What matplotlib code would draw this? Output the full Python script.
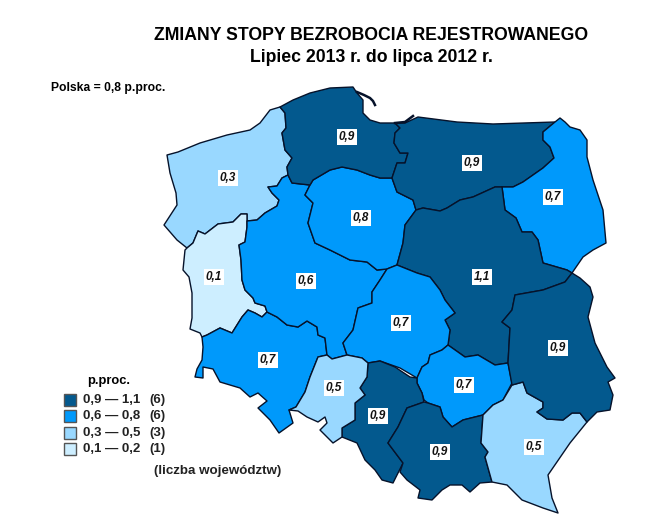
import matplotlib
matplotlib.use("Agg")
import matplotlib.pyplot as plt
from matplotlib.patches import Polygon, Rectangle

plt.rcParams['font.family'] = ['Liberation Sans', 'DejaVu Sans']

# voivodeship values, p.proc.
regions = ["zachodniopomorskie", "lubuskie", "dolnoslaskie", "wielkopolskie", "kujawsko-pomorskie",
           "pomorskie", "warminsko-mazurskie", "podlaskie", "mazowieckie", "lodzkie",
           "swietokrzyskie", "slaskie", "opolskie", "malopolskie", "podkarpackie", "lubelskie"]
values = [0.3, 0.1, 0.7, 0.6, 0.8, 0.9, 0.9, 0.7, 1.1, 0.7, 0.7, 0.9, 0.5, 0.9, 0.5, 0.9]
label_pos = [(228, 178), (214, 277), (268, 360), (306, 281), (361, 218), (347, 137), (472, 163), (553, 197),
             (482, 277), (401, 323), (464, 385), (378, 416), (334, 388), (440, 452), (534, 447), (558, 348)]

# outlines, in image pixels
outlines = {
    "zachodniopomorskie": [(167,155),(178,152),(200,143),(227,135),(250,130),(260,123),(270,110),(280,107),(285,113),
                           (286,128),(282,133),(285,150),(292,158),(287,167),(288,175),(282,178),(277,186),(268,187),
                           (272,193),(279,200),(277,206),(265,213),(257,220),(247,221),(247,214),(241,214),(233,222),
                           (218,224),(205,234),(198,231),(193,243),(187,248),(177,240),(164,225),(177,205),(176,193),(170,173)],
    "lubuskie": [(187,248),(193,243),(198,231),(205,234),(218,224),(233,222),(241,214),(247,214),(247,221),(247,227),
                 (245,242),(239,245),(241,260),(242,280),(245,290),(253,298),(255,303),(265,306),(267,312),(262,317),
                 (255,313),(248,310),(242,317),(232,333),(220,328),(207,335),(202,337),(200,333),(190,329),(192,318),
                 (192,293),(189,277),(183,270),(185,250)],
    "dolnoslaskie": [(202,337),(203,347),(202,360),(197,369),(195,377),(203,378),(203,367),(213,369),(220,382),(240,388),
                     (250,397),(258,393),(267,401),(258,408),(270,420),(279,433),(293,423),(289,410),(296,407),(305,392),
                     (310,377),(318,357),(327,355),(325,338),(318,335),(317,327),(307,321),(298,327),(287,325),(277,317),
                     (267,312),(262,317),(255,313),(248,310),(242,317),(232,333),(220,328),(207,335)],
    "wielkopolskie": [(288,175),(292,183),(310,185),(305,195),(313,203),(308,223),(315,243),(330,250),(350,260),(367,262),
                      (377,270),(387,269),(380,280),(372,292),(372,303),(358,308),(353,330),(343,343),(347,355),(332,359),
                      (327,355),(325,338),(318,335),(317,327),(307,321),(298,327),(287,325),(277,317),(267,312),(265,306),
                      (255,303),(253,298),(245,290),(242,280),(241,260),(239,245),(245,242),(247,227),(247,221),(257,220),
                      (265,213),(277,206),(279,200),(272,193),(268,187),(277,186),(282,178)],
    "kujawsko-pomorskie": [(310,185),(313,180),(330,170),(342,167),(357,170),(370,175),(380,178),(392,178),(397,192),
                           (413,200),(416,210),(405,225),(403,243),(397,265),(387,269),(377,270),(367,262),(350,260),
                           (330,250),(315,243),(308,223),(313,203),(305,195)],
    "pomorskie": [(280,107),(293,100),(310,93),(330,88),(353,87),(357,93),(363,100),(363,113),(370,120),(380,123),(395,123),
                  (400,128),(395,133),(394,143),(400,153),(408,153),(405,163),(397,163),(392,178),(380,178),(370,175),
                  (357,170),(342,167),(330,170),(313,180),(310,185),(292,183),(288,175),(287,167),(292,158),(285,150),
                  (282,133),(286,128),(285,113)],
    "warminsko-mazurskie": [(395,123),(405,123),(418,117),(457,122),(493,124),(555,122),(543,132),(543,140),(550,147),
                            (554,158),(543,168),(523,182),(513,187),(502,187),(495,187),(473,197),(460,200),(447,208),
                            (440,211),(423,208),(416,210),(413,200),(397,192),(392,178),(397,163),(405,163),(408,153),
                            (400,153),(394,143),(395,133),(400,128)],
    "podlaskie": [(555,122),(560,118),(565,122),(570,127),(580,130),(587,140),(587,157),(593,180),(603,210),(606,243),
                  (593,250),(583,257),(572,273),(567,270),(543,263),(538,240),(532,232),(522,232),(516,218),(505,210),
                  (502,187),(513,187),(523,182),(543,168),(554,158),(550,147),(543,140),(543,132)],
    "mazowieckie": [(416,210),(423,208),(440,211),(447,208),(460,200),(473,197),(495,187),(502,187),(505,210),(516,218),
                    (522,232),(532,232),(538,240),(543,263),(567,270),(572,273),(565,282),(543,290),(515,295),(512,310),
                    (502,322),(510,328),(508,363),(495,365),(478,355),(465,357),(448,345),(450,330),(445,320),(455,313),
                    (445,300),(440,290),(430,277),(417,273),(397,265),(403,243),(405,225)],
    "lodzkie": [(397,265),(417,273),(430,277),(440,290),(445,300),(455,313),(445,320),(450,330),(448,345),(442,350),
                (430,355),(428,363),(422,367),(417,378),(400,368),(380,361),(368,363),(362,358),(347,355),(343,343),
                (353,330),(358,308),(372,303),(372,292),(380,280),(387,269)],
    "swietokrzyskie": [(448,345),(465,357),(478,355),(495,365),(508,363),(512,383),(503,400),(493,405),(483,415),(463,420),
                       (452,427),(443,417),(440,407),(428,403),(424,400),(422,393),(417,383),(417,378),(422,367),(428,363),
                       (430,355),(442,350)],
    "slaskie": [(368,363),(380,361),(395,367),(410,377),(417,378),(417,383),(422,393),(424,402),(407,408),(398,427),
                (388,443),(403,463),(393,483),(382,480),(375,470),(365,460),(357,443),(342,437),(342,428),(355,420),
                (355,403),(365,395),(360,388),(367,377)],
    "opolskie": [(327,355),(332,359),(347,355),(362,358),(368,363),(367,377),(360,388),(365,395),(355,403),(355,420),
                 (342,428),(342,437),(333,443),(320,430),(327,423),(325,417),(318,422),(307,417),(298,411),(289,410),
                 (296,407),(305,392),(310,377),(318,357)],
    "malopolskie": [(424,402),(428,403),(440,407),(443,417),(452,427),(463,420),(483,415),(481,443),(488,452),(485,457),
                    (492,482),(480,483),(470,492),(462,485),(450,485),(442,490),(432,500),(418,498),(420,490),(407,480),
                    (400,472),(403,463),(388,443),(398,427),(407,408)],
    "podkarpackie": [(483,415),(493,405),(503,400),(512,385),(523,382),(527,393),(543,402),(543,408),(537,412),(547,419),
                     (563,420),(572,413),(580,413),(587,422),(570,443),(548,475),(552,498),(558,513),(543,508),(522,500),
                     (507,485),(492,482),(485,457),(488,452),(481,443)],
    "lubelskie": [(512,385),(508,363),(510,328),(502,322),(512,310),(515,295),(543,290),(565,282),(572,273),(580,278),
                  (590,287),(593,297),(588,317),(595,343),(607,367),(615,378),(608,382),(613,395),(610,410),(597,412),
                  (587,422),(580,413),(572,413),(563,420),(547,419),(537,412),(543,408),(543,402),(527,393),(523,382)],
}

hel_x = [357, 364, 370, 373, 375]
hel_y = [92, 95, 98, 101, 105]
zalew_x = [395, 405, 413]
zalew_y = [123, 122, 116]

legend_labels = ["0,9 — 1,1", "0,6 — 0,8", "0,3 — 0,5", "0,1 — 0,2"]
legend_counts = ["(6)", "(6)", "(3)", "(1)"]
colors = ["#03598e", "#0099fb", "#99d8ff", "#cdeeff"]
bin_low = [0.9, 0.6, 0.3, 0.1]


def class_color(v):
    for low, c in zip(bin_low, colors):
        if v >= low:
            return c
    return colors[-1]


fig = plt.figure(figsize=(6.47, 5.29), dpi=100)
ax = fig.add_axes([0, 0, 1, 1])
ax.set_xlim(0, 647)
ax.set_ylim(529, 0)
ax.axis('off')

for name, v in zip(regions, values):
    ax.add_patch(Polygon(outlines[name], closed=True, facecolor=class_color(v), edgecolor='#06122a',
                         linewidth=1.0, joinstyle='round'))

ax.plot(hel_x, hel_y, color='#06122a', lw=1.8)
ax.plot(zalew_x, zalew_y, color='#06122a', lw=1.8)

for (x, y), v in zip(label_pos, values):
    ax.text(x, y, f"{v:.1f}".replace('.', ','), ha='center', va='center', fontsize=8.5, fontweight='bold',
            fontstyle='italic', color='#111111',
            bbox=dict(facecolor='white', edgecolor='none', pad=1.5))

ax.text(371, 36, "ZMIANY STOPY BEZROBOCIA REJESTROWANEGO", ha='center', va='center', fontsize=12.7, fontweight='bold')
ax.text(371, 58, "Lipiec 2013 r. do lipca 2012 r.", ha='center', va='center', fontsize=12.7, fontweight='bold')
ax.text(51, 88, "Polska = 0,8 p.proc.", ha='left', va='center', fontsize=8.7, fontweight='bold')

ax.text(109, 381, "p.proc.", ha='center', va='center', fontsize=9.3, fontweight='bold')
for i, (lab, cnt, c) in enumerate(zip(legend_labels, legend_counts, colors)):
    y = 400 + i * 16.3
    ax.add_patch(Rectangle((63.5, y - 6), 12, 12, facecolor=c, edgecolor='#555555', linewidth=1))
    ax.text(83, y, lab, ha='left', va='center', fontsize=9.5, fontweight='bold', color='#222222')
    ax.text(149, y, cnt, ha='left', va='center', fontsize=9.5, fontweight='bold', color='#222222')
ax.text(154, 471, "(liczba województw)", ha='left', va='center', fontsize=9.6, fontweight='bold', color='#222222')

fig.savefig("out.png", dpi=100)
